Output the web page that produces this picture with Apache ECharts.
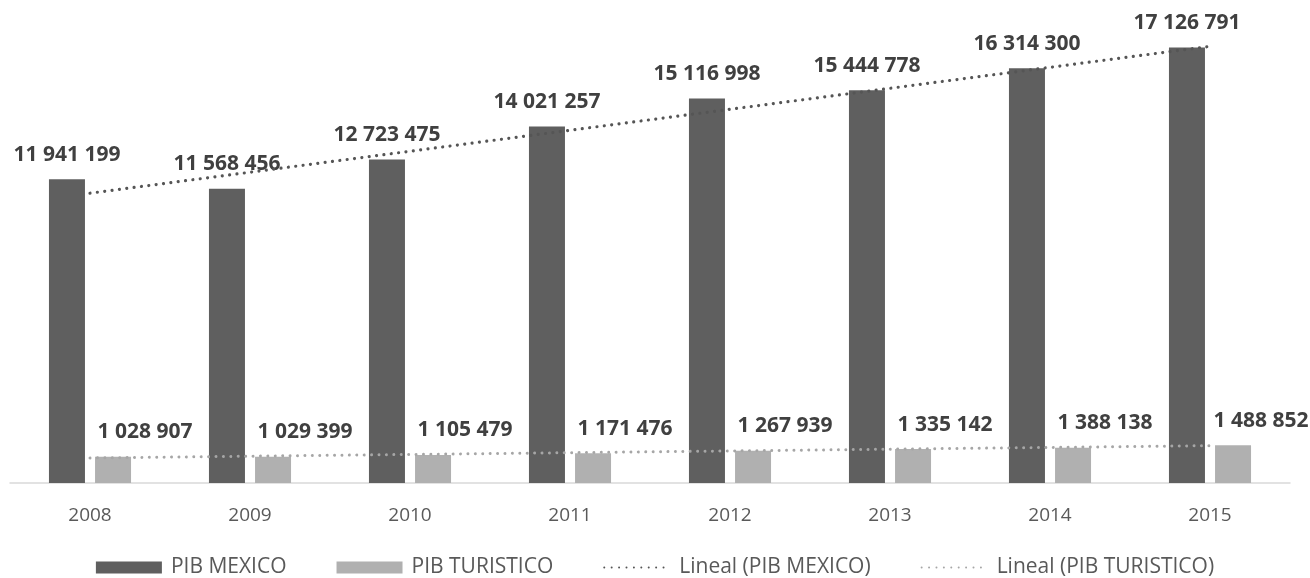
<!DOCTYPE html>
<html>
<head>
<meta charset="utf-8">
<script src="https://cdn.jsdelivr.net/npm/echarts@6/dist/echarts.min.js"></script>
<style>
  html, body { margin: 0; padding: 0; background: #fff; }
  #main { width: 1310px; height: 578px; }
</style>
</head>
<body>
<div id="main"></div>
<script>
var years = ['2008', '2009', '2010', '2011', '2012', '2013', '2014', '2015'];
var pibMexico = [11941199, 11568456, 12723475, 14021257, 15116998, 15444778, 16314300, 17126791];
var pibTuristico = [1028907, 1029399, 1105479, 1171476, 1267939, 1335142, 1388138, 1488852];
// trend lines
var linealMexico = [11395000, 12220000, 13045000, 13870000, 14695000, 15520000, 16345000, 17170000];
var linealTuristico = [985000, 1054000, 1123000, 1192000, 1261000, 1330000, 1399000, 1468000];

var fontFam = '"Open Sans", sans-serif';
function fmt(v) {
  return String(v).replace(/\B(?=(\d{3})+(?!\d))/g, ' ');
}
var dotted = [0.01, 7.4];

// last light label sits a bit closer so it stays inside the frame
var turData = pibTuristico.map(function (v, i) {
  if (i == pibTuristico.length - 1) return { value: v, label: { offset: [28, 0] } };
  return v;
});

var chart = echarts.init(document.getElementById('main'), null, { renderer: 'canvas' });
chart.setOption({
  animation: false,
  grid: { left: 10, right: 20, top: 10, bottom: 95, containLabel: false },
  legend: {
    top: 557,
    left: 'center',
    itemWidth: 66,
    itemHeight: 12,
    itemGap: 50,
    padding: 0,
    textStyle: { color: '#595959', fontSize: 21, fontFamily: fontFam, padding: [0, 0, 0, 4] },
    data: [
      { name: 'PIB MEXICO', icon: 'rect' },
      { name: 'PIB TURISTICO', icon: 'rect' },
      { name: 'Lineal (PIB MEXICO)', itemStyle: { opacity: 0 } },
      { name: 'Lineal (PIB TURISTICO)', itemStyle: { opacity: 0 } }
    ]
  },
  xAxis: {
    type: 'category',
    data: years,
    axisLine: { lineStyle: { color: '#d9d9d9', width: 1.5 } },
    axisTick: { show: false },
    axisLabel: { color: '#595959', fontSize: 19, fontFamily: fontFam, margin: 23 }
  },
  yAxis: {
    type: 'value',
    min: 0,
    max: 18600000,
    show: false,
    splitLine: { show: false }
  },
  series: [
    {
      name: 'PIB MEXICO',
      type: 'bar',
      data: pibMexico,
      barWidth: 36,
      barGap: '28%',
      itemStyle: { color: '#5f5f5f' },
      label: {
        show: true, position: 'top', distance: 14,
        color: '#404040', fontWeight: 'bold', fontSize: 21, fontFamily: fontFam,
        formatter: function (p) { return fmt(p.value); }
      }
    },
    {
      name: 'PIB TURISTICO',
      type: 'bar',
      data: turData,
      barWidth: 36,
      itemStyle: { color: '#b0b0b0' },
      label: {
        show: true, position: 'top', distance: 14, offset: [32, 0],
        color: '#404040', fontWeight: 'bold', fontSize: 21, fontFamily: fontFam,
        formatter: function (p) { return fmt(p.value); }
      }
    },
    {
      name: 'Lineal (PIB MEXICO)',
      type: 'line',
      data: linealMexico,
      symbol: 'none',
      z: 5,
      itemStyle: { color: '#555555' },
      lineStyle: { color: '#555555', width: 3.2, type: dotted, cap: 'round' }
    },
    {
      name: 'Lineal (PIB TURISTICO)',
      type: 'line',
      data: linealTuristico,
      symbol: 'none',
      z: 5,
      itemStyle: { color: '#a6a6a6' },
      lineStyle: { color: '#a6a6a6', width: 3, type: dotted, cap: 'round' }
    }
  ]
});
</script>
</body>
</html>
